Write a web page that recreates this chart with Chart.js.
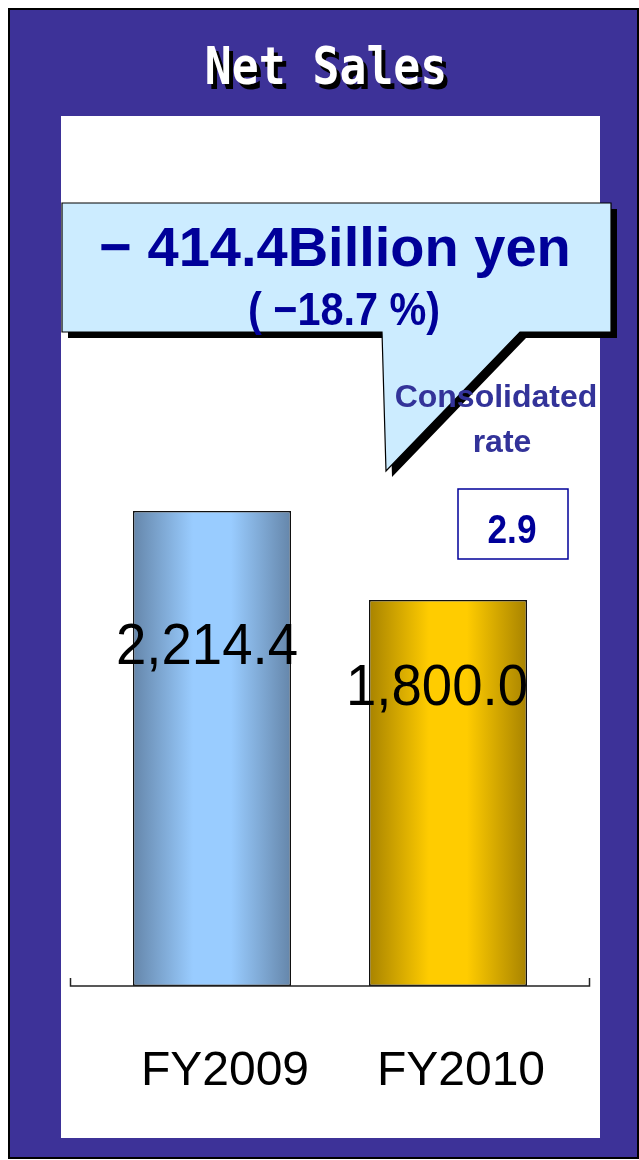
<!DOCTYPE html>
<html>
<head>
<meta charset="utf-8">
<title>Net Sales</title>
<script src="https://cdn.jsdelivr.net/npm/chart.js@4.4.1/dist/chart.umd.min.js"></script>
<style>
  html, body { margin: 0; padding: 0; background: #fff; }
  canvas { display: block; }
</style>
</head>
<body>
<canvas id="chart" width="639" height="1160"></canvas>
<script>
// ---- data ----
const title = 'Net Sales';
const categories = ['FY2009', 'FY2010'];
const netSales = [2214.4, 1800.0];            // billion yen
const rateCaption = ['Consolidated', 'rate'];
const consolidatedRate = [2.9];

// ---- derived text ----
const fmt = v => v.toLocaleString('en-US', { minimumFractionDigits: 1, maximumFractionDigits: 1 });
const diff = netSales[1] - netSales[0];
const diffPct = diff / netSales[0] * 100;
const changeLine = (diff < 0 ? '\u2212 ' : '+ ') + fmt(Math.abs(diff)) + 'Billion yen';
const pctLine = '( ' + (diffPct < 0 ? '\u2212' : '+') + Math.abs(diffPct).toFixed(1) + ' %)';

// ---- styles ----
const PURPLE = '#3D3298';
const NAVY = '#000099';
const CAPTION = '#333399';
const gradientStops = [
  ['#6586AA', '#99CCFF'],   // FY2009 steel blue
  ['#A88300', '#FFCC00']    // FY2010 gold
];
const BAR_PCT = 0.67;

function barGradient(c) {
  const chart = c.chart;
  const xs = chart.scales.x;
  const [edge, mid] = gradientStops[c.dataIndex % gradientStops.length];
  if (!chart.chartArea || !xs) return mid;
  const cx = xs.getPixelForValue(c.dataIndex);
  const half = xs.width / categories.length * BAR_PCT / 2;
  const g = chart.ctx.createLinearGradient(cx - half, 0, cx + half, 0);
  g.addColorStop(0, edge);
  g.addColorStop(0.38, mid);
  g.addColorStop(0.62, mid);
  g.addColorStop(1, edge);
  return g;
}

// draws text squeezed horizontally around (x, y)
function squeezedText(ctx, text, x, y, sx) {
  ctx.save();
  ctx.translate(x, y);
  ctx.scale(sx, 1);
  ctx.fillText(text, 0, 0);
  ctx.restore();
}

// page frame, white panel and title
const framePlugin = {
  id: 'frame',
  beforeDraw(chart) {
    const ctx = chart.ctx;
    ctx.save();
    ctx.fillStyle = '#fff';
    ctx.fillRect(0, 0, chart.width, chart.height);
    ctx.fillStyle = PURPLE;
    ctx.fillRect(9, 9, 629, 1149);
    ctx.strokeStyle = '#000';
    ctx.lineWidth = 2;
    ctx.strokeRect(9, 9, 629, 1149);
    ctx.fillStyle = '#fff';
    ctx.fillRect(61, 116, 539, 1022);

    // title with drop shadow, condensed monospace
    ctx.font = 'bold 52px "DejaVu Sans Mono"';
    ctx.textAlign = 'center';
    ctx.textBaseline = 'alphabetic';
    ctx.fillStyle = '#000';
    squeezedText(ctx, title, 330, 89, 0.86);
    ctx.fillStyle = '#fff';
    squeezedText(ctx, title, 326, 84, 0.86);
    ctx.restore();
  }
};

// baseline, value labels, callout and rate box
const overlayPlugin = {
  id: 'overlay',
  afterDatasetsDraw(chart) {
    const ctx = chart.ctx;
    const area = chart.chartArea;
    const y0 = chart.scales.y.getPixelForValue(0);
    ctx.save();

    // category axis line with end ticks
    const ext = 23.5;
    ctx.strokeStyle = '#222';
    ctx.lineWidth = 1.5;
    ctx.beginPath();
    ctx.moveTo(area.left - ext, y0 - 8);
    ctx.lineTo(area.left - ext, y0);
    ctx.lineTo(area.right + ext, y0);
    ctx.lineTo(area.right + ext, y0 - 8);
    ctx.stroke();

    // value labels inside the bars
    const shifts = [[-5, 153], [-11, 105]];
    const meta = chart.getDatasetMeta(0);
    ctx.fillStyle = '#000';
    ctx.font = '58px "Liberation Sans"';
    ctx.textAlign = 'center';
    ctx.textBaseline = 'alphabetic';
    meta.data.forEach((bar, i) => {
      const [dx, dy] = shifts[i];
      squeezedText(ctx, fmt(netSales[i]), bar.x + dx, bar.y + dy, 0.94);
    });

    // speech-bubble callout
    const bubble = [[62, 203], [611, 203], [611, 332], [520, 332], [386, 471], [382, 332], [62, 332]];
    const trace = (ox, oy) => {
      ctx.beginPath();
      bubble.forEach(([x, y], k) => k ? ctx.lineTo(x + ox, y + oy) : ctx.moveTo(x + ox, y + oy));
      ctx.closePath();
    };
    ctx.fillStyle = '#000';
    trace(6, 6);
    ctx.fill();
    ctx.fillStyle = '#CCECFF';
    trace(0, 0);
    ctx.fill();
    ctx.strokeStyle = '#000';
    ctx.lineWidth = 1.2;
    ctx.stroke();

    ctx.fillStyle = NAVY;
    ctx.font = 'bold 56px "Liberation Sans"';
    ctx.fillText(changeLine, 335, 266);
    ctx.font = 'bold 46px "Liberation Sans"';
    squeezedText(ctx, pctLine, 344, 325, 0.9);

    // consolidated rate caption and box
    ctx.fillStyle = CAPTION;
    ctx.font = 'bold 32px "Liberation Sans"';
    ctx.fillText(rateCaption[0], 496, 407);
    ctx.fillText(rateCaption[1], 502, 452);

    ctx.strokeStyle = NAVY;
    ctx.lineWidth = 1.5;
    ctx.strokeRect(458, 489, 110, 70);
    ctx.fillStyle = NAVY;
    ctx.font = 'bold 40px "Liberation Sans"';
    squeezedText(ctx, consolidatedRate[0].toFixed(1), 512, 543, 0.88);
    ctx.restore();
  }
};

new Chart(document.getElementById('chart'), {
  type: 'bar',
  data: {
    labels: categories,
    datasets: [{
      data: netSales,
      backgroundColor: barGradient,
      borderColor: '#111',
      borderWidth: 1.5,
      borderSkipped: false,
      barPercentage: BAR_PCT,
      categoryPercentage: 1
    }]
  },
  options: {
    responsive: false,
    animation: false,
    events: [],
    layout: { padding: { left: 94, right: 73, top: 128, bottom: 0 } },
    plugins: { legend: { display: false }, tooltip: { enabled: false } },
    scales: {
      x: {
        grid: { display: false },
        border: { display: false },
        ticks: {
          color: '#000',
          font: { family: '"Liberation Sans"', size: 48 },
          padding: 49,
          labelOffset: 13,
          maxRotation: 0,
          autoSkip: false
        },
        afterFit(scale) { scale.height = 174; }
      },
      y: {
        display: false,
        min: 0,
        max: 4000
      }
    }
  },
  plugins: [framePlugin, overlayPlugin]
});
</script>
</body>
</html>
